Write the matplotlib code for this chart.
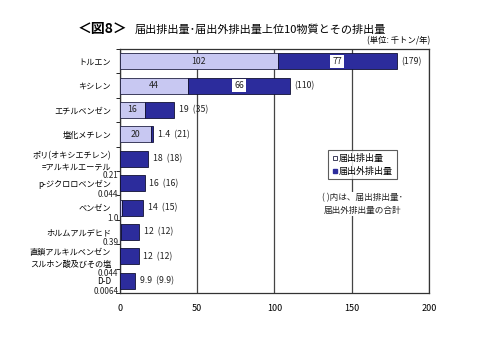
import matplotlib
matplotlib.use("Agg")
import matplotlib.pyplot as plt
from matplotlib.lines import Line2D
import numpy as np

plt.rcParams['font.family'] = ['Noto Sans CJK JP', 'DejaVu Sans']

substances = [
    "トルエン", "キシレン", "エチルベンゼン", "塩化メチレン",
    "ポリ(オキシエチレン)\n=アルキルエーテル", "p-ジクロロベンゼン", "ベンゼン",
    "ホルムアルデヒド", "直鎖アルキルベンゼン\nスルホン酸及びその塩", "D-D",
]
reported = [102, 44, 16, 20, 0.21, 0.044, 1.0, 0.39, 0.044, 0.0064]
unreported = [77, 66, 19, 1.4, 18, 16, 14, 12, 12, 9.9]
totals = [179, 110, 35, 21, 18, 16, 15, 12, 12, 9.9]
reported_txt = ["102", "44", "16", "20", "0.21", "0.044", "1.0", "0.39", "0.044", "0.0064"]
unreported_txt = ["77", "66", "19", "1.4", "18", "16", "14", "12", "12", "9.9"]

light = "#c8c8f2"
dark = "#2c2c9c"

fig = plt.figure(figsize=(4.91, 3.37), dpi=100)
ax = fig.add_axes([0.2444, 0.1306, 0.6293, 0.724])

y = np.arange(len(substances))
h = 0.65
ax.barh(y, reported, height=h, color=light, edgecolor="#222244", linewidth=0.6, zorder=3)
ax.barh(y, unreported, left=reported, height=h, color=dark, edgecolor="#111133",
        linewidth=0.6, zorder=3)

fs = 6.3
for i in range(len(substances)):
    end = reported[i] + unreported[i]
    if reported[i] >= 10:
        # big reported part: label inside the light bar
        ax.text(reported[i] / 2, i, reported_txt[i], ha="center", va="center",
                fontsize=fs, color="#222222", zorder=4)
        if unreported[i] >= 30:
            ax.text(reported[i] + unreported[i] / 2, i, unreported_txt[i], ha="center",
                    va="center", fontsize=fs, color="#222222", zorder=4,
                    bbox=dict(boxstyle="square,pad=0.25", fc="white", ec="none"))
            ax.text(end + 3, i, f"({totals[i]:g})", ha="left", va="center",
                    fontsize=fs, color="#222222")
        else:
            ax.text(end + 3, i, f"{unreported_txt[i]}  ({totals[i]:g})", ha="left",
                    va="center", fontsize=fs, color="#222222")
    else:
        ax.text(end + 3, i, f"{unreported_txt[i]}  ({totals[i]:g})", ha="left",
                va="center", fontsize=fs, color="#222222")
        # tiny reported part: value written under the category name
        off = 0.7 if "\n" in substances[i] else 0.45
        ax.text(-1, i + off, reported_txt[i], ha="right", va="center",
                fontsize=5.8, color="#222222", clip_on=False)

ax.set_xlim(0, 200)
ax.set_ylim(len(substances) - 0.5, -0.5)
ax.set_xticks([0, 50, 100, 150, 200])
ax.set_yticks(y)
ax.set_yticklabels(substances, fontsize=5.9, linespacing=1.35)
ax.set_yticks(np.arange(len(substances) + 1) - 0.5, minor=True)
ax.tick_params(axis="y", which="major", length=0, pad=6.5)
ax.tick_params(axis="y", which="minor", length=3, direction="out", width=0.6)
ax.tick_params(axis="x", length=0, pad=8, labelsize=6.5)
ax.xaxis.grid(True, color="#444444", linewidth=0.9, zorder=1)
for s in ax.spines.values():
    s.set_color("#333333")
    s.set_linewidth(0.9)

handles = [
    Line2D([], [], marker="s", linestyle="none", markersize=3.5,
           markerfacecolor="white", markeredgecolor="#222244", markeredgewidth=0.6),
    Line2D([], [], marker="s", linestyle="none", markersize=3.5,
           markerfacecolor=dark, markeredgecolor=dark),
]
leg = ax.legend(handles, ["届出排出量", "届出外排出量"], loc="center",
                bbox_to_anchor=(0.785, 0.525), fontsize=6.5, frameon=True,
                fancybox=False, edgecolor="#333333", handlelength=0.6,
                handletextpad=0.2, borderpad=0.4, labelspacing=0.4)
leg.get_frame().set_linewidth(0.8)
leg.set_zorder(5)

ax.text(0.785, 0.365, "( )内は、届出排出量･\n届出外排出量の合計", transform=ax.transAxes,
        ha="center", va="center", fontsize=6.2, linespacing=1.5, color="#222222",
        bbox=dict(boxstyle="square,pad=0.1", fc="white", ec="none"), zorder=5)

fig.text(0.158, 0.915, "＜図8＞", fontsize=10, fontweight="bold", ha="left", va="center")
fig.text(0.275, 0.913, "届出排出量･届出外排出量上位10物質とその排出量", fontsize=8,
         ha="left", va="center")
fig.text(0.877, 0.88, "(単位: 千トン/年)", fontsize=6, ha="right", va="center")

fig.savefig("out.png", dpi=100)
